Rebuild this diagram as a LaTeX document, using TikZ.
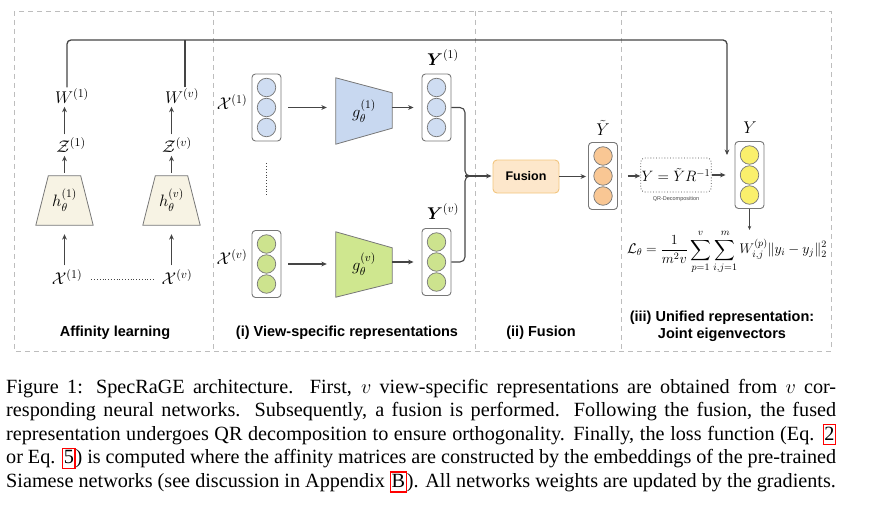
\RequirePackage{fix-cm}
\documentclass[tikz,border=0pt]{standalone}
\usepackage{amsmath}
\usepackage{fontspec}
\newfontfamily\hfont{Liberation Sans}
\newfontfamily\capfont{Liberation Serif}
\usetikzlibrary{arrows.meta,backgrounds}
\definecolor{linecol}{HTML}{454545}
\definecolor{boxborder}{HTML}{777777}
\definecolor{dashcol}{HTML}{BDBDBD}
\definecolor{cream}{HTML}{F7F3E4}
\definecolor{blueF}{HTML}{C8D8F0}
\definecolor{blueC}{HTML}{CFDDF2}
\definecolor{greenF}{HTML}{CFE78F}
\definecolor{greenC}{HTML}{CDE38E}
\definecolor{orangeC}{HTML}{F9C794}
\definecolor{fusionF}{HTML}{FDE7CB}
\definecolor{fusionD}{HTML}{F2C57E}
\definecolor{yellowC}{HTML}{FAF06C}
\newcommand\neurcol[3]{%
  \node[colbox] (#1) at (#2) {};
  \node[neuron, fill=#3] (#1a) at ([yshift=20pt]#1.center) {};
  \node[neuron, fill=#3] (#1b) at (#1.center) {};
  \node[neuron, fill=#3] (#1c) at ([yshift=-20pt]#1.center) {};}
\newcommand\rlink[1]{{\setlength\fboxsep{0.4pt}\setlength\fboxrule{1.3pt}\fcolorbox{red}{white}{\rule[-3.5pt]{0pt}{18pt}#1}}}
\begin{document}
\begin{tikzpicture}[x=1pt,y=-1pt,
  line/.style={draw=linecol, line width=1.1pt},
  arr/.style={line, -{Stealth[length=5.5pt,width=4.8pt]}},
  colbox/.style={draw=boxborder, fill=white, rounded corners=3.5pt, minimum width=29pt, minimum height=67pt, inner sep=0, line width=0.9pt},
  neuron/.style={circle, draw=boxborder, minimum size=18.5pt, inner sep=0, line width=0.7pt},
  mlab/.style={inner sep=1pt, font=\fontsize{17}{20}\selectfont},
  trap/.style={draw=boxborder, line width=0.8pt},
  title/.style={font=\hfont\bfseries\fontsize{14.5}{17}\selectfont, align=center},
  panel/.style={draw=dashcol, dash pattern=on 5pt off 4pt, line width=0.8pt},
  capline/.style={anchor=base west, inner sep=0, font=\capfont\fontsize{20.2}{24}\selectfont}]
\useasboundingbox (0,0) rectangle (878,508);

% panels
\draw[panel] (14,11) rectangle (831,351);
\draw[panel] (213,11) -- (213,351);
\draw[panel] (475,11) -- (475,351);
\draw[panel] (621,11) -- (621,351);

% ---------- Affinity learning ----------
\node[mlab] (W1) at (72,96) {$W^{(1)}$};
\node[mlab] (Wv) at (182,96) {$W^{(v)}$};
\node[mlab] (Z1) at (71,145) {$\mathcal{Z}^{(1)}$};
\node[mlab] (Zv) at (177,145) {$\mathcal{Z}^{(v)}$};
\node[minimum width=57pt, minimum height=49pt, inner sep=0, font=\fontsize{16.5}{19}\selectfont] (h1) at (64.5,200.5) {$h_\theta^{(1)}$};
\node[minimum width=57pt, minimum height=49pt, inner sep=0, font=\fontsize{16.5}{19}\selectfont] (hv) at (171.5,200.5) {$h_\theta^{(v)}$};
\node[mlab] (X1) at (67,277) {$\mathcal{X}^{(1)}$};
\node[mlab] (Xv) at (177,277) {$\mathcal{X}^{(v)}$};

\draw[arr, shorten <=3pt, shorten >=9pt] (h1.south |- X1.north) -- (h1.south);
\draw[arr, shorten <=3pt, shorten >=9pt] (hv.south |- Xv.north) -- (hv.south);
\draw[arr, shorten <=3pt, shorten >=2pt] (h1.north) -- (h1.north |- Z1.south);
\draw[arr, shorten <=3pt, shorten >=2pt] (hv.north) -- (hv.north |- Zv.south);
\draw[arr, shorten <=2pt, shorten >=2pt] (h1.north |- Z1.north) -- (h1.north |- W1.south);
\draw[arr, shorten <=2pt, shorten >=2pt] (hv.north |- Zv.north) -- (hv.north |- Wv.south);
\draw[line, line width=0.9pt, dash pattern=on 0.8pt off 2pt, shorten <=8pt, shorten >=7pt] ([yshift=-2pt]X1.east) -- ([yshift=-2pt]Xv.west);

% ---------- View-specific ----------
\node[mlab] (X1b) at (232,102) {$\mathcal{X}^{(1)}$};
\node[mlab] (Xvb) at (232,257) {$\mathcal{X}^{(v)}$};
\neurcol{in1}{266.5,107.5}{blueC}
\neurcol{inv}{266.5,264}{greenC}
\node[minimum width=56pt, minimum height=66pt, inner sep=0, font=\fontsize{16.5}{19}\selectfont] (g1) at (364,111) {$g_\theta^{(1)}$};
\node[minimum width=56pt, minimum height=65pt, inner sep=0, font=\fontsize{16.5}{19}\selectfont] (gv) at (364,264.5) {$g_\theta^{(v)}$};
\neurcol{y1}{436.5,107.5}{blueC}
\neurcol{yv}{436.5,262}{greenC}
\node[mlab] (Y1lab) at (443,58) {$\boldsymbol{Y}^{(1)}$};
\node[mlab] (Yvlab) at (443,212) {$\boldsymbol{Y}^{(v)}$};

\draw[arr, shorten <=7pt, shorten >=9pt] (in1.east) -- (in1.east -| g1.west);
\draw[arr, shorten <=7pt, shorten >=9pt] (inv.east) -- (inv.east -| gv.west);
\draw[arr, shorten >=8pt] (y1.west -| g1.east) -- (y1.west);
\draw[arr, shorten >=8pt] (yv.west -| gv.east) -- (yv.west);
\draw[line, line width=0.9pt, dash pattern=on 0.8pt off 2pt, shorten <=22pt, shorten >=34pt] (in1.south) -- (inv.north);

\coordinate (merge) at (465,176);
\draw[line, rounded corners=5pt] (y1.east) -| (merge) -- ++(6,0);
\draw[line, rounded corners=5pt] (yv.east) -| (merge) -- ++(6,0);

% ---------- Fusion ----------
\node[draw=fusionD, fill=fusionF, rounded corners=4pt, minimum width=66pt, minimum height=33pt, line width=0.9pt, font=\hfont\bfseries\fontsize{12.5}{15}\selectfont] (fusion) at (526,176.5) {Fusion};
\draw[arr, shorten >=1pt] (merge) -- (merge -| fusion.west);
\neurcol{yt}{603,176}{orangeC}
\node[inner sep=1pt, font=\fontsize{17}{20}\selectfont] (ytlab) at (603,128) {$\tilde{Y}$};
\draw[arr, shorten >=2pt] (fusion.east) -- (fusion.east -| yt.west);

% ---------- Unified ----------
\node[draw=linecol, dotted, rounded corners=4pt, minimum width=66pt, minimum height=34pt, line width=0.8pt, inner sep=1pt, font=\fontsize{15}{18}\selectfont] (qr) at (676,175) {$Y=\tilde{Y}R^{-1}$};
\node[inner sep=0, font=\hfont\fontsize{5.5}{6}\selectfont, text=linecol] (qrlab) at (676,199) {QR-Decomposition};
\neurcol{yy}{749.5,175}{yellowC}
\node[inner sep=1pt, font=\fontsize{17}{20}\selectfont] (yylab) at (750,128) {$Y$};
\draw[arr, shorten <=10pt] (yt.east) -- (yt.east -| qr.west);
\draw[arr, shorten >=9pt] (qr.east) -- (qr.east -| yy.west);

\node[inner sep=0, font=\fontsize{14}{17}\selectfont] (loss) at (727,252) {$\displaystyle \mathcal{L}_\theta=\frac{1}{m^2v}\sum_{p=1}^{v}\sum_{i,j=1}^{m}W_{i,j}^{(p)}\|y_i-y_j\|_2^2$};
\draw[draw=linecol, line width=0.7pt, -{Stealth[length=4pt,width=3.5pt]}] (yy.south) -- (yy.south |- loss.north);

% feedback line
\coordinate (ftop) at (727,40);
\coordinate (fbend) at (727,155);
\draw[arr, line width=1.3pt, rounded corners=4pt] ([xshift=-5pt]W1.north) |- (ftop) -- (fbend);
\draw[line, line width=1.3pt] ([xshift=3pt]Wv.north) -- ([xshift=3pt]Wv.north |- ftop);

% trapezoids on background
\begin{scope}[on background layer]
\draw[trap, fill=cream] ([xshift=12.5pt]h1.north west) -- ([xshift=-12.5pt]h1.north east) -- (h1.south east) -- (h1.south west) -- cycle;
\draw[trap, fill=cream] ([xshift=12.5pt]hv.north west) -- ([xshift=-12.5pt]hv.north east) -- (hv.south east) -- (hv.south west) -- cycle;
\draw[trap, fill=blueF] (g1.north west) -- ([yshift=-15pt]g1.north east) -- ([yshift=16pt]g1.south east) -- (g1.south west) -- cycle;
\draw[trap, fill=greenF] (gv.north west) -- ([yshift=-16pt]gv.north east) -- ([yshift=14pt]gv.south east) -- (gv.south west) -- cycle;
\end{scope}

% titles
\node[title] (t0) at (115,333) {Affinity learning};
\node[title] (t1) at (347,333) {(i) View-specific representations};
\node[title] (t2) at (541,333) {(ii) Fusion};
\node[title] (t3) at (722,326.5) {(iii) Unified representation:\\Joint eigenvectors};

% caption
\node[capline] (c1) at (6,393) {\makebox[830pt][s]{Figure 1: SpecRaGE architecture. First, $v$ view-specific representations are obtained from $v$ cor-}};
\node[capline] (c2) at (6,416.6) {\makebox[830pt][s]{responding neural networks. Subsequently, a fusion is performed. Following the fusion, the fused}};
\node[capline] (c3) at (6,440.2) {\makebox[830pt][s]{representation undergoes QR decomposition to ensure orthogonality. Finally, the loss function (Eq. \rlink{2}}};
\node[capline] (c4) at (6,463.8) {\makebox[830pt][s]{or Eq. \rlink{5}) is computed where the affinity matrices are constructed by the embeddings of the pre-trained}};
\node[capline] (c5) at (6,487.4) {Siamese networks (see discussion in Appendix \rlink{B}). All networks weights are updated by the gradients.};
\end{tikzpicture}
\end{document}
